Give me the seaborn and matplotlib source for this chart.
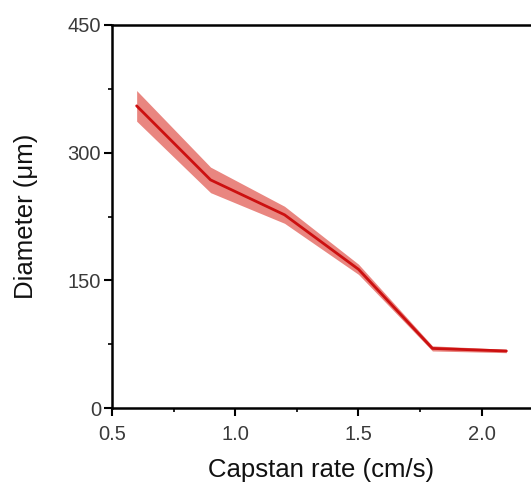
import numpy as np
import pandas as pd
import seaborn as sns
import matplotlib.pyplot as plt
from matplotlib.ticker import MultipleLocator

# capstan rate vs fibre diameter
rate = [0.6, 0.9, 1.2, 1.5, 1.8, 2.1]
diameter = [355, 268, 227, 163, 70, 67]
spread = [18, 15, 10, 6, 3, 2]

sns.set_theme(style="white")
plt.rcParams['font.family'] = ['Liberation Sans', 'DejaVu Sans']

df = pd.DataFrame({'rate': rate, 'diameter': diameter, 'spread': spread})

fig = plt.figure(figsize=(5.31, 4.83), dpi=100)
ax = fig.add_axes([112/531, 75/483, 1 - 112/531, 383/483])

lo = df['diameter'] - df['spread']
hi = df['diameter'] + df['spread']
ax.fill_between(df['rate'], lo, hi, color='#e98680', linewidth=0)
sns.lineplot(data=df, x='rate', y='diameter', ax=ax, color='#cc1010', linewidth=2)

ax.set_xlim(0.5, 2.2)
ax.set_ylim(0, 450)
ax.xaxis.set_major_locator(MultipleLocator(0.5))
ax.xaxis.set_minor_locator(MultipleLocator(0.25))
ax.yaxis.set_major_locator(MultipleLocator(150))
ax.yaxis.set_minor_locator(MultipleLocator(75))
ax.xaxis.set_major_formatter(plt.FuncFormatter(lambda v, p: f"{v:.1f}"))

for s in ['left', 'bottom', 'top']:
    ax.spines[s].set_color('black')
    ax.spines[s].set_linewidth(1.8)
ax.spines['right'].set_visible(False)

ax.tick_params(axis='both', which='major', direction='out', length=6, width=1.5,
               labelsize=14.5, colors='black')
ax.tick_params(axis='x', which='major', pad=6)
ax.tick_params(axis='y', which='major', pad=2)
ax.tick_params(axis='both', which='minor', direction='out', length=3, width=1.2, colors='black')
ax.tick_params(bottom=True, left=True, which='both')
for lab in ax.get_xticklabels() + ax.get_yticklabels():
    lab.set_color('#3a3a3a')

ax.set_xlabel('Capstan rate (cm/s)', fontsize=18.5, color='#111111', labelpad=10)
ax.set_ylabel('Diameter (μm)', fontsize=18.5, color='#111111', labelpad=21)

fig.savefig('out.png', dpi=100)
